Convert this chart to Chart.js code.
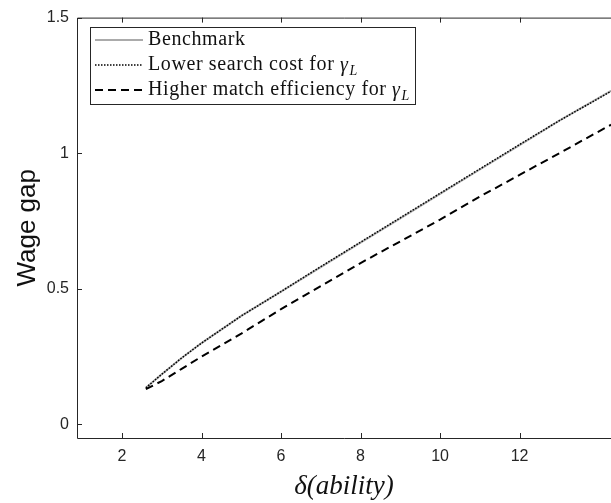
<!DOCTYPE html>
<html>
<head>
<meta charset="utf-8">
<script src="https://cdn.jsdelivr.net/npm/chart.js@4.4.1/dist/chart.umd.min.js"></script>
<style>
  html, body { margin: 0; padding: 0; background: #fff; }
  #wrap { width: 611px; height: 503px; position: relative; }
</style>
</head>
<body>
<div id="wrap"><canvas id="gapChart"></canvas></div>
<script>
// values
const abilityValues  = [2.6, 3.0, 3.5, 4.0, 5.0, 6.0, 7.0, 8.0, 9.0, 10.0, 11.0, 12.0, 13.0, 14.3];
const benchmarkGap   = [0.135, 0.185, 0.245, 0.30, 0.40, 0.49, 0.58, 0.67, 0.76, 0.85, 0.94, 1.03, 1.12, 1.23];
const lowerSearchGap = [0.135, 0.185, 0.245, 0.30, 0.40, 0.49, 0.582, 0.672, 0.762, 0.852, 0.942, 1.032, 1.12, 1.228];
const higherMatchGap = [0.13, 0.16, 0.205, 0.25, 0.335, 0.425, 0.51, 0.595, 0.675, 0.755, 0.84, 0.92, 1.0, 1.105];

const xTicks = [2, 4, 6, 8, 10, 12];
const yTicks = [0, 0.5, 1, 1.5];
const seriesNames = ['Benchmark', 'Lower search cost for ', 'Higher match efficiency for '];

const axisColor = '#262626';

function toPoints(ys) {
    return abilityValues.map((x, i) => ({ x: x, y: ys[i] }));
}

// MATLAB-style box with inward ticks
const framePlugin = {
    id: 'frame',
    afterDatasetsDraw(chart) {
        const ctx = chart.ctx;
        const a = chart.chartArea;
        const xs = chart.scales.x, ys = chart.scales.y;
        ctx.save();
        ctx.strokeStyle = axisColor;
        ctx.lineWidth = 1;
        ctx.beginPath();
        ctx.moveTo(a.right + 1, a.top + 0.5);
        ctx.lineTo(a.left + 0.5, a.top + 0.5);
        ctx.lineTo(a.left + 0.5, a.bottom + 0.5);
        ctx.lineTo(a.right + 1, a.bottom + 0.5);
        xTicks.forEach(v => {
            const px = Math.round(xs.getPixelForValue(v)) + 0.5;
            ctx.moveTo(px, a.bottom);
            ctx.lineTo(px, a.bottom - 5);
            ctx.moveTo(px, a.top);
            ctx.lineTo(px, a.top + 5);
        });
        yTicks.forEach(v => {
            const py = Math.round(ys.getPixelForValue(v)) + 0.5;
            ctx.moveTo(a.left, py);
            ctx.lineTo(a.left + 5, py);
        });
        ctx.stroke();
        ctx.restore();
    }
};

// legend box with a math subscript
const legendPlugin = {
    id: 'mathLegend',
    afterDraw(chart) {
        const ctx = chart.ctx;
        const rowsY = [40, 65, 90];
        const textX = 148;
        ctx.save();
        ctx.letterSpacing = '0.6px';
        ctx.textBaseline = 'middle';

        // measure rows first to size the box
        const ends = seriesNames.map((name, i) => {
            ctx.font = '20px "Liberation Serif", serif';
            let w = ctx.measureText(name).width;
            if (i > 0) {
                ctx.font = 'italic 20px "Liberation Serif", serif';
                w += ctx.measureText('\u03B3').width;
                ctx.font = 'italic 14px "Liberation Serif", serif';
                w += ctx.measureText('L').width + 1;
            }
            return textX + w;
        });
        const right = Math.round(Math.max(...ends) + 5) + 0.5;

        ctx.fillStyle = '#fff';
        ctx.fillRect(90.5, 27.5, right - 90.5, 77);
        ctx.strokeStyle = axisColor;
        ctx.lineWidth = 1;
        ctx.strokeRect(90.5, 27.5, right - 90.5, 77);

        chart.data.datasets.forEach((ds, i) => {
            const y = rowsY[i];
            ctx.beginPath();
            ctx.strokeStyle = ds.borderColor;
            ctx.lineWidth = ds.borderWidth;
            ctx.setLineDash(ds.borderDash || []);
            ctx.moveTo(95, y);
            ctx.lineTo(143, y);
            ctx.stroke();
            ctx.setLineDash([]);

            ctx.fillStyle = '#111';
            ctx.font = '20px "Liberation Serif", serif';
            ctx.fillText(seriesNames[i], textX, y);
            if (i > 0) {
                let tx = textX + ctx.measureText(seriesNames[i]).width;
                ctx.font = 'italic 20px "Liberation Serif", serif';
                ctx.fillText('\u03B3', tx, y + 1);
                tx += ctx.measureText('\u03B3').width;
                ctx.font = 'italic 14px "Liberation Serif", serif';
                ctx.fillText('L', tx + 1, y + 6);
            }
        });
        ctx.restore();
    }
};

const ctx = document.getElementById('gapChart').getContext('2d');
new Chart(ctx, {
    type: 'line',
    data: {
        datasets: [
            {
                label: 'Benchmark',
                data: toPoints(benchmarkGap),
                borderColor: '#ababab',
                borderWidth: 2,
                pointRadius: 0,
                tension: 0,
                order: 3
            },
            {
                label: 'Lower search cost for γL',
                data: toPoints(lowerSearchGap),
                borderColor: '#000',
                borderWidth: 1.5,
                borderDash: [1.5, 1.5],
                pointRadius: 0,
                tension: 0,
                order: 2
            },
            {
                label: 'Higher match efficiency for γL',
                data: toPoints(higherMatchGap),
                borderColor: '#000',
                borderWidth: 2,
                borderDash: [8, 5],
                pointRadius: 0,
                tension: 0,
                order: 1
            }
        ]
    },
    options: {
        responsive: true,
        maintainAspectRatio: false,
        animation: false,
        layout: { padding: { top: 14, right: 0, left: 0, bottom: 0 } },
        plugins: {
            legend: { display: false },
            tooltip: { enabled: false }
        },
        scales: {
            x: {
                type: 'linear',
                min: 0.868,
                max: 14.3,
                grid: { display: false, drawTicks: false },
                border: { display: false },
                afterBuildTicks: scale => { scale.ticks = xTicks.map(v => ({ value: v })); },
                afterFit: scale => { scale.height = 65; },
                ticks: {
                    color: axisColor,
                    font: { family: '"Liberation Sans", Arial, sans-serif', size: 16 },
                    padding: 9,
                    maxRotation: 0,
                    callback: v => String(v)
                },
                title: {
                    display: true,
                    text: 'δ(ability)',
                    color: '#111',
                    font: { family: '"Liberation Serif", serif', size: 27, style: 'italic' },
                    padding: { top: 0, bottom: 0 }
                }
            },
            y: {
                type: 'linear',
                min: -0.05,
                max: 1.5,
                grid: { display: false, drawTicks: false },
                border: { display: false },
                afterBuildTicks: scale => { scale.ticks = yTicks.map(v => ({ value: v })); },
                afterFit: scale => { scale.width = 77; },
                ticks: {
                    color: axisColor,
                    font: { family: '"Liberation Sans", Arial, sans-serif', size: 16 },
                    padding: 8,
                    callback: v => String(v)
                },
                title: {
                    display: true,
                    text: 'Wage gap',
                    color: '#111',
                    font: { family: '"Liberation Sans", Arial, sans-serif', size: 26 },
                    padding: { top: 12, bottom: 0 }
                }
            }
        }
    },
    plugins: [framePlugin, legendPlugin]
});
</script>
</body>
</html>
